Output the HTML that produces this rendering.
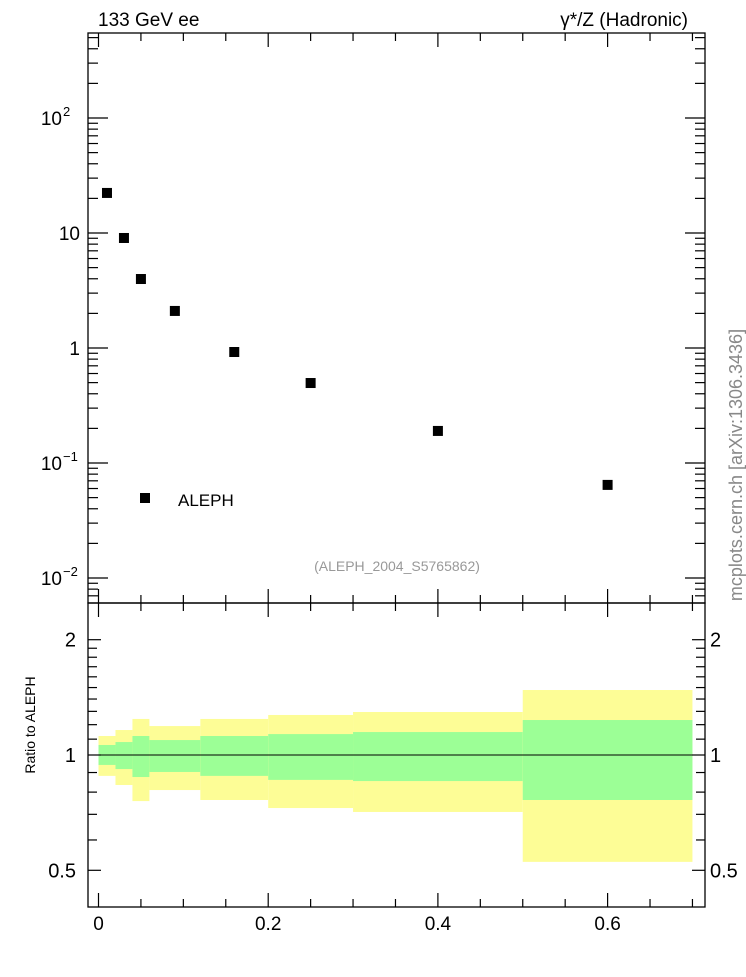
<!DOCTYPE html>
<html><head><meta charset="utf-8"><style>
html,body{margin:0;padding:0;background:#fff;}
svg text{font-family:"Liberation Sans",sans-serif;}
</style></head><body>
<svg id="chart" width="746" height="972" xmlns="http://www.w3.org/2000/svg">
<g id="bands"></g>
<g id="marks"></g>
<g id="axes"></g>
<rect x="88" y="33" width="617" height="570" fill="none" stroke="#000" stroke-width="1.3"/>
<rect x="88" y="603" width="617" height="304" fill="none" stroke="#000" stroke-width="1.3"/>
<text x="98" y="26" font-size="19">133 GeV ee</text>
<text x="688" y="26" font-size="19" text-anchor="end">γ*/Z (Hadronic)</text>
<text x="397" y="571" font-size="14" fill="#999" text-anchor="middle">(ALEPH_2004_S5765862)</text>
<rect x="140" y="493" width="10" height="10" fill="#000"/>
<text x="178" y="506" font-size="17">ALEPH</text>
<text transform="translate(742,465) rotate(-90)" font-size="18" fill="#888" text-anchor="middle">mcplots.cern.ch [arXiv:1306.3436]</text>
<text transform="translate(35,725) rotate(-90)" font-size="14" text-anchor="middle">Ratio to ALEPH</text>
</svg>
<script>
const xData=[0.01,0.03,0.05,0.09,0.16,0.25,0.4,0.6];
const yData=[22.3,9.05,3.98,2.1,0.923,0.496,0.19,0.0645];
const binEdges=[0,0.02,0.04,0.06,0.12,0.2,0.3,0.5,0.7];
const yellowHi=[1.121,1.162,1.242,1.190,1.242,1.272,1.295,1.478];
const greenHi=[1.062,1.081,1.121,1.094,1.121,1.134,1.148,1.234];
const greenLo=[0.942,0.919,0.876,0.903,0.882,0.861,0.855,0.763];
const yellowLo=[0.882,0.835,0.758,0.810,0.763,0.727,0.710,0.526];
const xTicks=[0,0.2,0.4,0.6];
const xTickLabels=["0","0.2","0.4","0.6"];
const NS="http://www.w3.org/2000/svg";
const X=v=>98.5+v*848.5;
const Y=v=>348-115*Math.log10(v);
const R=v=>755-383*Math.log10(v);
function mk(tag,attrs,parent){const e=document.createElementNS(NS,tag);for(const k in attrs)e.setAttribute(k,attrs[k]);parent.appendChild(e);return e;}
const bands=document.getElementById('bands'),marks=document.getElementById('marks'),axes=document.getElementById('axes');
for(let i=0;i<binEdges.length-1;i++){
  const x0=X(binEdges[i]),x1=X(binEdges[i+1]);
  const y=mk('rect',{x:x0,y:R(yellowHi[i]),width:x1-x0,height:R(yellowLo[i])-R(yellowHi[i]),fill:'#fdfd96'},bands);
  
  
  const g=mk('rect',{x:x0,y:R(greenHi[i]),width:x1-x0,height:R(greenLo[i])-R(greenHi[i]),fill:'#9cff96'},bands);
  
  
}
const ln=mk('line',{x1:X(0),x2:X(0.7),y1:R(1),y2:R(1),stroke:'#000','stroke-width':1},bands);


for(let i=0;i<xData.length;i++){
  const p=mk('rect',{x:X(xData[i])-5,y:Y(yData[i])-5,width:10,height:10,fill:'#000'},marks);
  
  
}
const st={stroke:'#000','stroke-width':1.2};
function line(x1,y1,x2,y2){const l=mk('line',Object.assign({x1,y1,x2,y2},st),axes);}
for(let v=0;v<=0.7001;v+=0.05){
  const maj=Math.abs(v/0.2-Math.round(v/0.2))<1e-6;const L=maj?14:8;const x=X(v);
  line(x,603,x,603-L);line(x,33,x,33+L);line(x,907,x,907-L);line(x,603,x,603+L);
}
xTicks.forEach((v,i)=>{const t=mk('text',{x:X(v),y:930,'font-size':19,'text-anchor':'middle'},axes);t.textContent=xTickLabels[i];});
for(let d=-3;d<=2;d++){for(let m=1;m<10;m++){const v=m*Math.pow(10,d);const y=Y(v);if(y<33||y>603)continue;const L=m==1?20:10;line(88,y,88+L,y);line(705,y,705-L,y);}}
const ylab=[[100,'10','2'],[10,'10',''],[1,'1',''],[0.1,'10','−1'],[0.01,'10','−2']];
ylab.forEach(a=>{const t=mk('text',{x:a[2]?62:80,y:Y(a[0])+7,'font-size':19,'text-anchor':'end'},axes);t.textContent=a[1];
 if(a[2]){const s=mk('text',{x:63,y:Y(a[0])-2,'font-size':13},axes);s.textContent=a[2];}});
const rt=[0.5,0.6,0.7,0.8,0.9,1,1.1,1.2,1.3,1.4,1.5,1.6,1.7,1.8,1.9,2];
rt.forEach(v=>{const y=R(v);if(y<603||y>907)return;const maj=(v==0.5||v==1||v==2);const L=maj?13:9;line(88,y,88+L,y);line(705,y,705-L,y);});
[[2,'2'],[1,'1'],[0.5,'0.5']].forEach(a=>{
 const t=mk('text',{x:76,y:R(a[0])+7,'font-size':20,'text-anchor':'end'},axes);t.textContent=a[1];
 const t2=mk('text',{x:710,y:R(a[0])+7,'font-size':20},axes);t2.textContent=a[1];});
</script>
</body></html>
